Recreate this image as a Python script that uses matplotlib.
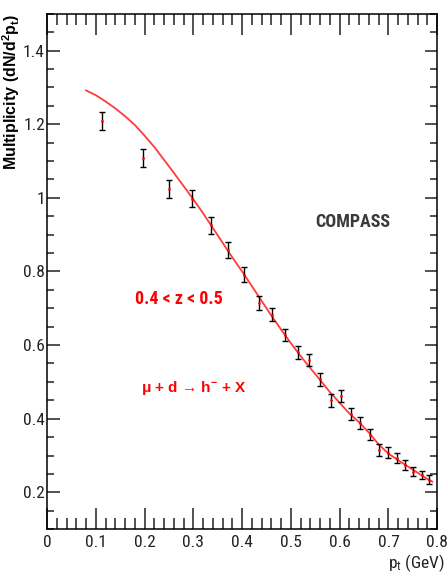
import numpy as np
import matplotlib
matplotlib.use("Agg")
import matplotlib.pyplot as plt
from matplotlib.ticker import MultipleLocator

plt.rcParams['font.family'] = ['Roboto Condensed', 'DejaVu Sans']
plt.rcParams['mathtext.default'] = 'regular'

# datos
pt = [0.113, 0.196, 0.251, 0.297, 0.336, 0.371, 0.404, 0.434, 0.461, 0.488,
      0.514, 0.537, 0.560, 0.582, 0.602, 0.623, 0.642, 0.662, 0.681, 0.699,
      0.717, 0.734, 0.750, 0.768, 0.783]
mult = [1.208, 1.109, 1.024, 0.998, 0.925, 0.858, 0.791, 0.714, 0.683, 0.628,
        0.580, 0.559, 0.507, 0.450, 0.461, 0.412, 0.389, 0.357, 0.315, 0.308,
        0.294, 0.274, 0.256, 0.247, 0.234]
err = [0.024, 0.024, 0.025, 0.023, 0.022, 0.022, 0.020, 0.019, 0.018, 0.017,
       0.018, 0.017, 0.017, 0.017, 0.016, 0.016, 0.016, 0.015, 0.015, 0.014,
       0.014, 0.013, 0.012, 0.012, 0.012]

# curva del ajuste
fit_x = [0.08, 0.10, 0.12, 0.14, 0.16, 0.18, 0.20, 0.22, 0.24, 0.26, 0.28,
         0.30, 0.32, 0.34, 0.36, 0.38, 0.40, 0.42, 0.44, 0.46, 0.48, 0.50,
         0.52, 0.54, 0.56, 0.58, 0.60, 0.62, 0.64, 0.66, 0.68, 0.70, 0.72,
         0.74, 0.76, 0.78, 0.79]
fit_y = [1.292, 1.279, 1.262, 1.243, 1.222, 1.198, 1.169, 1.138, 1.103, 1.068,
         1.032, 0.996, 0.958, 0.918, 0.878, 0.838, 0.800, 0.760, 0.720, 0.680,
         0.642, 0.605, 0.570, 0.537, 0.505, 0.472, 0.443, 0.414, 0.390, 0.362,
         0.330, 0.305, 0.287, 0.270, 0.253, 0.236, 0.229]

fig = plt.figure(figsize=(4.48, 5.77), dpi=100)
ax = fig.add_axes([0.105, 0.083, 0.871, 0.893])

ax.plot(fit_x, fit_y, '-', color='#ff3b3b', lw=1.3, zorder=2)
ax.errorbar(pt, mult, yerr=err, fmt='none', ecolor='black', elinewidth=1.0,
            capsize=2, capthick=1.0, zorder=3)
ax.plot(pt, mult, 'o', color='red', ms=2, mec='none', zorder=4)

ax.set_xlim(0, 0.8)
ax.set_ylim(0.1, 1.5)
ax.xaxis.set_minor_locator(MultipleLocator(0.02))
ax.yaxis.set_minor_locator(MultipleLocator(0.05))
ax.set_xticks([0, 0.1, 0.2, 0.3, 0.4, 0.5, 0.6, 0.7, 0.8])
ax.set_xticklabels(['0', '0.1', '0.2', '0.3', '0.4', '0.5', '0.6', '0.7', '0.8'])
ax.set_yticks([0.2, 0.4, 0.6, 0.8, 1.0, 1.2, 1.4])
ax.set_yticklabels(['0.2', '0.4', '0.6', '0.8', '1', '1.2', '1.4'])

ax.tick_params(axis='both', which='both', direction='in', top=True, right=True,
               labelsize=12.5, width=1.1, color='#222222', labelcolor='#222222')
ax.tick_params(axis='x', which='major', length=15, pad=4)
ax.tick_params(axis='x', which='minor', length=8)
ax.tick_params(axis='y', which='major', length=9, pad=1.5)
ax.tick_params(axis='y', which='minor', length=5)
for s in ax.spines.values():
    s.set_linewidth(1.1)

ax.set_ylabel('Multiplicity (dN/d$^{2}$p$_{t}$)', fontsize=11.5, fontweight='bold',
              family=['Liberation Sans', 'DejaVu Sans'], ha='right', va='center')
ax.yaxis.set_label_coords(-0.092, 1.0)
ax.set_xlabel('p$_{t}$ (GeV)', fontsize=12.5, ha='right', va='center', color='#222222')
ax.xaxis.set_label_coords(1.02, -0.066)

ax.text(0.627, 0.935, 'COMPASS', fontsize=13, fontweight='bold', color='#3a3a3a',
        ha='center', va='center')
ax.text(0.27, 0.726, '0.4 < z < 0.5', fontsize=13, fontweight='bold', color='red',
        ha='center', va='center')
ax.text(0.30, 0.483, 'μ + d → h$^{-}$ + X', fontsize=11, fontweight='bold', color='red',
        family=['Liberation Sans', 'DejaVu Sans'], ha='center', va='center')

fig.savefig('out.png', dpi=100)
